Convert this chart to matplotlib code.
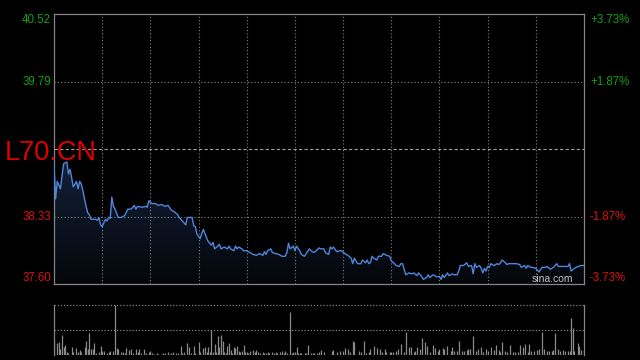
import matplotlib
matplotlib.use("Agg")
import matplotlib.pyplot as plt
import numpy as np
from matplotlib.patches import Polygon
from matplotlib.colors import LinearSegmentedColormap

# ---------------- data ----------------
symbol = "L70.CN"
prev_close = 39.06
y_min, y_max = 37.60, 40.52
session_minutes = 330
x_grid = list(range(30, 330, 30))

left_ticks = [40.52, 39.79, 38.33, 37.60]
left_labels = ["40.52", "39.79", "38.33", "37.60"]
right_labels = ["+3.73%", "+1.87%", "-1.87%", "-3.73%"]

minutes = [0, 1, 2, 4, 5, 6, 8, 9, 10, 11, 12, 14, 15, 16, 17, 18, 19, 20, 21, 22,
           23, 26, 27, 28, 29, 30, 31, 32, 33, 34, 35, 36, 37, 38, 40, 42, 44, 46, 48, 50,
           51, 52, 55, 57, 58, 59, 61, 63, 65, 67, 69, 71, 73, 75, 77, 78, 79, 81, 82, 83,
           86, 87, 88, 89, 91, 92, 93, 95, 96, 98, 99, 100, 102, 103, 104, 106, 108, 109, 110, 112,
           113, 114, 115, 117, 118, 120, 122, 124, 126, 128, 130, 131, 132, 133, 135, 136, 138, 140, 142, 144,
           145, 146, 147, 149, 150, 151, 153, 154, 156, 157, 159, 160, 162, 165, 166, 168, 169, 171, 172, 173,
           174, 176, 178, 179, 181, 183, 185, 186, 187, 189, 191, 192, 194, 195, 196, 197, 198, 199, 201, 202,
           204, 205, 207, 209, 210, 212, 213, 215, 216, 217, 219, 221, 223, 224, 226, 227, 229, 230, 232, 233,
           234, 236, 238, 240, 241, 242, 243, 245, 246, 248, 249, 251, 252, 253, 255, 257, 258, 260, 261, 262,
           263, 265, 266, 267, 268, 269, 270, 271, 272, 274, 276, 277, 278, 279, 281, 282, 283, 286, 288, 290,
           291, 293, 294, 295, 297, 298, 300, 301, 302, 303, 304, 306, 307, 309, 311, 313, 314, 316, 318, 320,
           321, 322, 324, 325, 328, 330]
prices = [38.90, 38.52, 38.71, 38.63, 38.77, 38.90, 38.92, 38.79, 38.84, 38.75, 38.65, 38.71, 38.63, 38.71, 38.68, 38.61, 38.52, 38.44, 38.37, 38.35,
          38.30, 38.30, 38.29, 38.32, 38.24, 38.22, 38.26, 38.30, 38.28, 38.32, 38.31, 38.54, 38.44, 38.41, 38.32, 38.32, 38.34, 38.41, 38.41, 38.45,
          38.41, 38.44, 38.43, 38.44, 38.43, 38.50, 38.47, 38.47, 38.45, 38.46, 38.44, 38.45, 38.40, 38.38, 38.35, 38.32, 38.30, 38.26, 38.24, 38.32,
          38.32, 38.23, 38.22, 38.14, 38.09, 38.15, 38.19, 38.10, 38.06, 38.02, 38.05, 37.98, 38.01, 38.03, 37.98, 38.00, 37.98, 38.01, 37.98, 37.96,
          38.01, 37.98, 38.00, 37.98, 37.96, 37.96, 37.94, 37.92, 37.91, 37.93, 37.91, 37.95, 37.92, 37.96, 37.98, 37.94, 37.93, 37.92, 37.90, 37.90,
          37.94, 38.04, 37.98, 38.01, 37.96, 38.01, 37.96, 37.92, 37.90, 37.93, 37.98, 37.96, 37.94, 37.99, 37.98, 37.98, 37.94, 37.92, 38.00, 37.98,
          38.00, 37.95, 37.96, 37.96, 37.93, 37.91, 37.88, 37.82, 37.88, 37.82, 37.82, 37.86, 37.83, 37.86, 37.82, 37.83, 37.90, 37.88, 37.86, 37.90,
          37.90, 37.93, 37.91, 37.90, 37.85, 37.82, 37.80, 37.79, 37.82, 37.82, 37.70, 37.72, 37.71, 37.72, 37.69, 37.72, 37.68, 37.65, 37.67, 37.70,
          37.67, 37.70, 37.68, 37.68, 37.65, 37.70, 37.67, 37.72, 37.69, 37.71, 37.70, 37.70, 37.74, 37.80, 37.80, 37.83, 37.79, 37.80, 37.71, 37.82,
          37.78, 37.80, 37.77, 37.72, 37.77, 37.74, 37.79, 37.78, 37.82, 37.80, 37.82, 37.81, 37.83, 37.86, 37.83, 37.81, 37.82, 37.82, 37.82, 37.81,
          37.78, 37.80, 37.77, 37.80, 37.78, 37.78, 37.77, 37.75, 37.73, 37.76, 37.78, 37.78, 37.79, 37.76, 37.78, 37.82, 37.79, 37.79, 37.79, 37.79,
          37.82, 37.74, 37.77, 37.78, 37.80, 37.80]

vol_minutes = [0, 2, 3, 4, 5, 6, 7, 8, 9, 11, 12, 14, 15, 16, 17, 19, 20, 21, 22, 23,
               24, 25, 26, 28, 29, 30, 31, 33, 34, 35, 37, 38, 39, 40, 42, 43, 44, 45, 47, 48,
               49, 51, 52, 53, 54, 56, 57, 59, 60, 61, 62, 64, 65, 67, 68, 69, 71, 72, 73, 74,
               76, 77, 79, 80, 81, 83, 84, 85, 87, 88, 90, 91, 93, 94, 95, 96, 97, 98, 99, 100,
               101, 102, 103, 104, 105, 106, 107, 108, 109, 110, 111, 112, 113, 114, 115, 116, 117, 118, 119, 120,
               121, 122, 124, 125, 126, 127, 128, 130, 131, 132, 133, 134, 136, 137, 138, 139, 141, 142, 143, 144,
               145, 147, 148, 149, 150, 151, 152, 153, 154, 156, 157, 158, 160, 161, 162, 164, 165, 166, 168, 173,
               174, 176, 178, 180, 181, 183, 184, 186, 187, 190, 191, 193, 194, 196, 197, 199, 201, 203, 204, 206,
               207, 209, 210, 211, 213, 214, 216, 218, 219, 221, 222, 224, 225, 226, 228, 229, 231, 232, 234, 236,
               237, 239, 240, 242, 243, 245, 247, 248, 249, 251, 252, 254, 255, 257, 258, 259, 261, 263, 264, 266,
               267, 269, 270, 272, 274, 275, 277, 278, 279, 281, 282, 284, 286, 287, 289, 290, 292, 293, 295, 296,
               297, 299, 301, 302, 304, 305, 307, 308, 310, 311, 312, 314, 315, 317, 318, 320, 321, 322, 323, 324,
               326, 327, 328, 330]
volumes = [300, 234, 266, 114, 400, 166, 200, 66, 34, 166, 66, 134, 66, 100, 66, 166, 286, 114, 446, 114,
           114, 246, 34, 66, 180, 86, 86, 46, 66, 86, 86, 1000, 146, 114, 66, 66, 34, 134, 100, 114,
           46, 114, 66, 114, 46, 114, 46, 66, 80, 34, 20, 34, 20, 20, 34, 46, 66, 20, 46, 66,
           46, 34, 180, 46, 66, 246, 166, 34, 180, 34, 266, 66, 134, 154, 66, 154, 66, 500, 66, 220,
           66, 380, 166, 400, 286, 66, 46, 180, 246, 100, 46, 154, 134, 180, 86, 66, 86, 200, 66, 66,
           46, 86, 100, 66, 100, 66, 34, 66, 46, 34, 66, 46, 66, 34, 66, 46, 66, 86, 46, 86,
           46, 846, 46, 66, 66, 166, 46, 46, 34, 34, 34, 200, 34, 34, 34, 46, 66, 100, 60, 80,
           100, 66, 80, 80, 134, 114, 66, 280, 266, 80, 66, 280, 46, 66, 114, 180, 146, 114, 66, 114,
           66, 66, 66, 66, 86, 114, 220, 66, 460, 154, 154, 66, 80, 154, 114, 334, 266, 180, 66, 200,
           134, 86, 114, 134, 114, 180, 80, 154, 80, 80, 280, 80, 80, 100, 114, 114, 380, 80, 114, 166,
           66, 114, 80, 154, 100, 200, 100, 66, 266, 86, 66, 200, 66, 66, 66, 200, 166, 220, 66, 220,
           80, 80, 100, 114, 466, 114, 80, 80, 86, 100, 446, 114, 80, 100, 80, 86, 80, 734, 534, 80,
           246, 180, 100, 100]

# ---------------- style ----------------
plt.rcParams['font.family'] = ['Liberation Sans', 'DejaVu Sans']
GREEN = '#14a014'
RED = '#dc1010'
GRID = '#858585'
SPINE = '#858585'

W, H = 640, 360
fig = plt.figure(figsize=(W / 100, H / 100), dpi=100, facecolor='black')

# main price panel
ax = fig.add_axes([54 / W, 1 - 284 / H, 530 / W, 270 / H])
ax.set_facecolor('black')
ax.set_xlim(0, session_minutes)
ax.set_ylim(y_min, y_max)
for s in ax.spines.values():
    s.set_color(SPINE)
    s.set_linewidth(0.9)
ax.set_xticks([])
ax.set_yticks([])

for xg in x_grid:
    ax.axvline(xg, color=GRID, lw=0.8, ls=(0, (1, 2)), zorder=2)
for yg in [39.79, 38.33]:
    ax.axhline(yg, color=GRID, lw=0.8, ls=(0, (1, 2)), zorder=2)
ax.axhline(prev_close, color='#a0a0a0', lw=0.8, ls=(0, (3, 2)), zorder=2)

# gradient fill under the price line
verts = [(minutes[0], y_min)] + list(zip(minutes, prices)) + [(minutes[-1], y_min)]
poly = Polygon(verts, closed=True, facecolor='none', edgecolor='none')
ax.add_patch(poly)
cmap = LinearSegmentedColormap.from_list('fill', ['#04060a', '#132038'])
grad = np.linspace(1, 0, 256).reshape(-1, 1)
im = ax.imshow(grad, extent=[0, session_minutes, y_min, max(prices)], aspect='auto',
               cmap=cmap, origin='upper', zorder=1, interpolation='bilinear')
im.set_clip_path(poly)
ax.set_xlim(0, session_minutes)
ax.set_ylim(y_min, y_max)

ax.plot(minutes, prices, color='#4f86dc', lw=1.0, zorder=3, solid_joinstyle='round')

# tick labels
tr = ax.get_yaxis_transform()
for v, ll, rl in zip(left_ticks, left_labels, right_labels):
    col = GREEN if v > prev_close else RED
    va = 'center'
    if v == y_max:
        va = 'top'
    elif v == y_min:
        va = 'bottom'
    ax.text(-3 / 530, v, ll, transform=tr, ha='right', va=va, color=col, fontsize=8.3)
    ax.text(1 + 6 / 530, v, rl, transform=tr, ha='left', va=va, color=col, fontsize=8.3)

# symbol and watermark
fig.text(5 / W, 1 - 159.5 / H, symbol, color='#e00000', fontsize=19.5, ha='left', va='baseline')
fig.text(532 / W, 1 - 279 / H, 'sina.com', color='#c4c4c4', fontsize=7.5, ha='left', va='center')

# volume panel
ax2 = fig.add_axes([54 / W, 1 - 355 / H, 530 / W, 50.3 / H])
ax2.set_facecolor('black')
ax2.set_xlim(0, session_minutes)
vmax = max(volumes)
ax2.set_ylim(0, vmax)
ax2.set_xticks([])
ax2.set_yticks([])
for side in ['top', 'bottom']:
    ax2.spines[side].set_visible(False)
for side in ['left', 'right']:
    ax2.spines[side].set_color(SPINE)
    ax2.spines[side].set_linewidth(0.9)
ax2.axhline(vmax, color=GRID, lw=0.9, ls=(0, (1, 1.5)), clip_on=False)
ax2.axhline(vmax / 2, color=GRID, lw=0.9, ls=(0, (1, 1.5)))
ax2.vlines(vol_minutes, 0, volumes, colors='#8a8a8a', lw=0.9)

fig.savefig('out.png', dpi=100, facecolor='black')
